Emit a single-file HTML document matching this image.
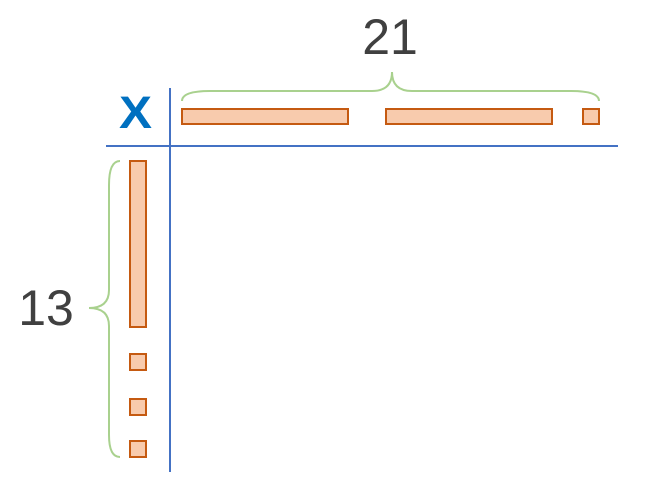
<!DOCTYPE html>
<html><head><meta charset="utf-8"><style>
html,body{margin:0;padding:0;background:#fff;width:669px;height:500px;overflow:hidden}
</style></head><body>
<svg width="669" height="500" xmlns="http://www.w3.org/2000/svg">
<text x="390" y="54" font-family="Liberation Sans, sans-serif" font-size="50" fill="#404040" text-anchor="middle">21</text>
<text x="46" y="325" font-family="Liberation Sans, sans-serif" font-size="50" fill="#404040" text-anchor="middle">13</text>
<text x="0" y="128" transform="translate(135.5,0) scale(1.1,1)" font-family="Liberation Sans, sans-serif" font-weight="bold" font-size="45" fill="#0070C0" text-anchor="middle">X</text>
<path d="M182,101 Q182,91 210,91 L372,91 Q392,91 392,72 Q392,91 412,91 L571,91 Q599,91 599,101" fill="none" stroke="#A9D18E" stroke-width="2"/>
<path d="M120,161 Q109,161 109,185 L109,290 Q109,308 89,308 Q109,308 109,326 L109,435 Q109,457 120,457" fill="none" stroke="#A9D18E" stroke-width="2"/>
<line x1="106" y1="146" x2="618" y2="146" stroke="#4472C4" stroke-width="2"/>
<line x1="170" y1="88" x2="170" y2="472" stroke="#4472C4" stroke-width="2"/>
<g fill="#F8CBAD" stroke="#C55A11" stroke-width="2">
<rect x="182" y="109" width="166" height="15"/>
<rect x="386" y="109" width="166" height="15"/>
<rect x="583" y="109" width="16" height="15"/>
<rect x="130" y="161" width="16" height="166"/>
<rect x="130" y="354" width="16" height="16"/>
<rect x="130" y="399" width="16" height="16"/>
<rect x="130" y="441" width="16" height="16"/>
</g>
</svg>
</body></html>
